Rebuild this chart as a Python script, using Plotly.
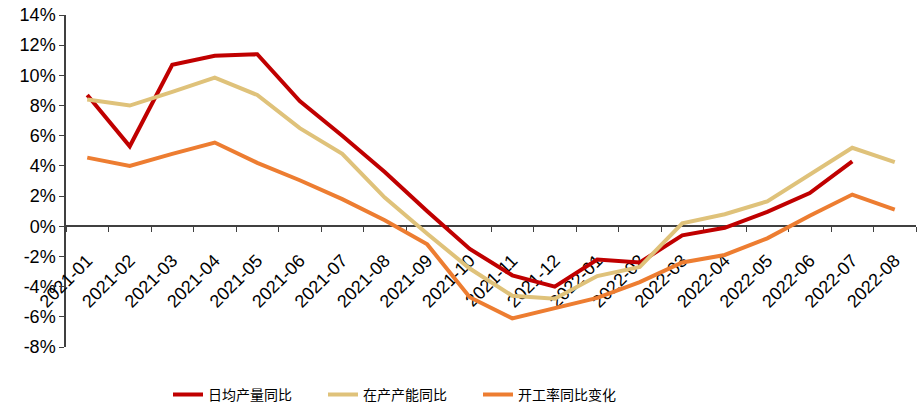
import plotly.graph_objects as go

# Monthly categories
months = [
    "2021-01", "2021-02", "2021-03", "2021-04", "2021-05", "2021-06", "2021-07",
    "2021-08", "2021-09", "2021-10", "2021-11", "2021-12", "2022-01", "2022-02",
    "2022-03", "2022-04", "2022-05", "2022-06", "2022-07", "2022-08",
]

# Year-on-year changes, in percent
daily_output_yoy = [8.7, 5.3, 10.7, 11.3, 11.4, 8.3, 6.0, 3.6, 1.0, -1.5,
                    -3.25, -4.0, -2.2, -2.4, -0.6, -0.1, 0.95, 2.2, 4.3, None]
capacity_yoy = [8.4, 8.0, 8.9, 9.85, 8.7, 6.5, 4.8, 1.9, -0.5, -2.8,
                -4.6, -4.8, -3.3, -2.7, 0.2, 0.8, 1.65, 3.45, 5.2, 4.25]
utilization_yoy = [4.55, 4.0, 4.8, 5.55, 4.2, 3.05, 1.8, 0.4, -1.2, -4.7,
                   -6.1, -5.4, -4.75, -3.7, -2.4, -1.9, -0.8, 0.7, 2.1, 1.1]

series_names = ["日均产量同比", "在产产能同比", "开工率同比变化"]
series_colors = ["#C00000", "#DFC27A", "#ED7D31"]

y_ticks = list(range(-8, 16, 2))
y_min, y_max = -8, 14

fig = go.Figure()
for name, values, color in zip(series_names,
                               [daily_output_yoy, capacity_yoy, utilization_yoy],
                               series_colors):
    fig.add_trace(go.Scatter(
        x=months, y=values, name=name, mode="lines",
        line=dict(color=color, width=4),
        connectgaps=False,
    ))

axis_color = "#404040"
fig.update_layout(
    width=919, height=407,
    margin=dict(l=66, r=3, t=15, b=60, autoexpand=False),
    paper_bgcolor="white", plot_bgcolor="white",
    font=dict(family="Liberation Sans, Arial, sans-serif", size=18, color="black"),
    showlegend=True,
    legend=dict(
        orientation="h", x=0.12, xanchor="left",
        yref="container", y=0.03, yanchor="middle",
        font=dict(family="Noto Sans CJK SC", size=14, color="black"),
        entrywidth=110, entrywidthmode="pixels",
        bgcolor="rgba(0,0,0,0)",
    ),
    xaxis=dict(
        type="category", range=[-0.5, len(months) - 0.5],
        anchor="free", position=(0 - y_min) / (y_max - y_min),
        showline=True, linecolor=axis_color, linewidth=1.5,
        ticks="outside", ticklen=5, tickcolor=axis_color, tickwidth=1,
        tickson="boundaries", tickangle=-45, ticklabelstandoff=16,
        showgrid=False, zeroline=False, automargin=False,
        tickfont=dict(size=18), layer="below traces",
    ),
    yaxis=dict(
        range=[y_min, y_max], tickvals=y_ticks,
        ticktext=[f"{v}%" for v in y_ticks],
        showline=True, linecolor=axis_color, linewidth=1.5,
        ticks="outside", ticklen=5, tickcolor=axis_color, tickwidth=1,
        showgrid=False, zeroline=False, automargin=False,
        tickfont=dict(size=18), layer="below traces",
    ),
)

fig.write_html("out.html")
